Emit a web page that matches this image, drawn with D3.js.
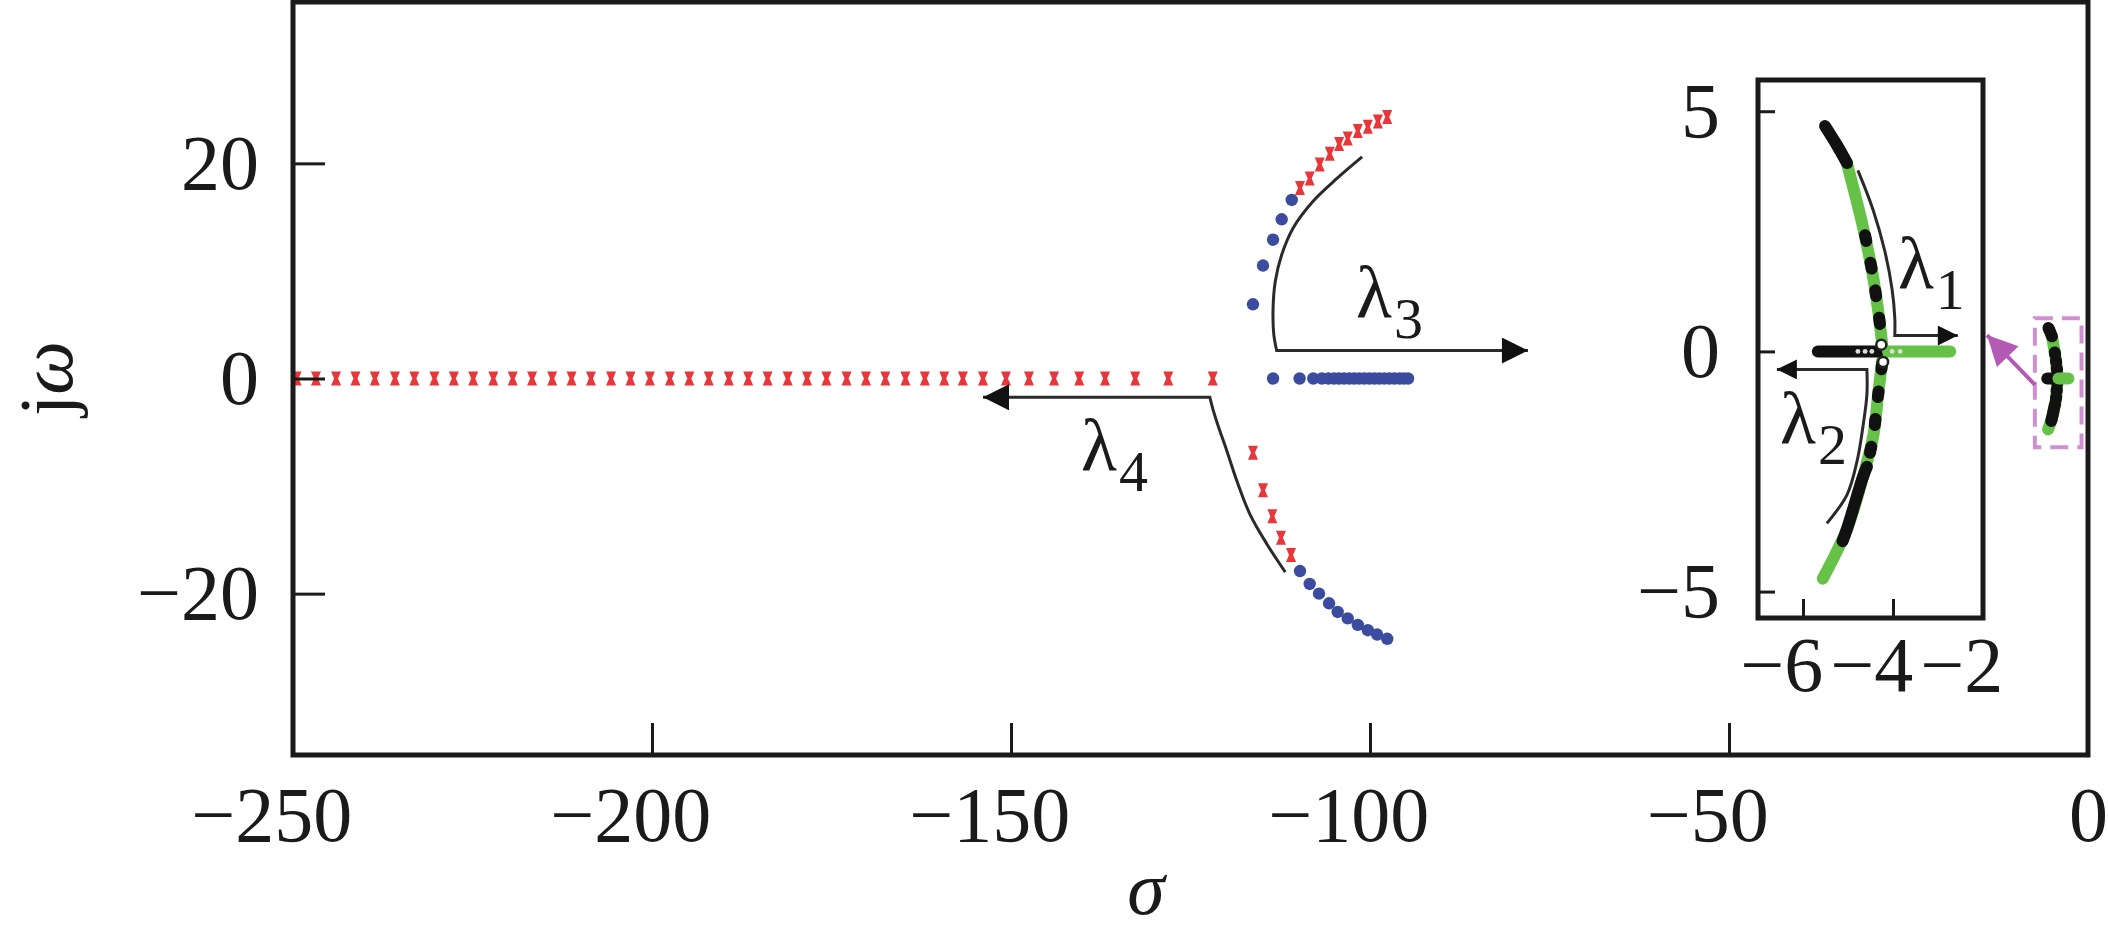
<!DOCTYPE html>
<html>
<head>
<meta charset="utf-8">
<script src="https://cdn.jsdelivr.net/npm/d3@7"></script>
<style>
  body { margin: 0; background: #fff; }
  svg { display: block; }
  text { font-family: "Liberation Serif", "Times New Roman", serif; fill: #1a1a1a; }
</style>
</head>
<body>
<div id="locus"></div>
<script>
// root locus, main plane (sigma, omega)
var redAxisSigma = [-249.5, -246.8, -244.0, -241.3, -238.6, -235.8, -233.1, -230.3, -227.6, -224.9,
    -222.1, -219.4, -216.7, -213.9, -211.2, -208.5, -205.7, -203.0, -200.3, -197.5,
    -194.8, -192.1, -189.3, -186.6, -183.9, -181.1, -178.4, -175.7, -172.9, -170.2,
    -167.5, -164.7, -162.0, -159.3, -156.7, -153.9, -150.7, -147.5, -144.0, -140.5,
    -136.9, -132.7, -128.1, -121.9];
var redUpper = [[-109.75, 17.7], [-108.4, 18.6], [-107.0, 19.9], [-105.6, 20.9], [-104.3, 21.8],
    [-103.1, 22.3], [-101.7, 23.0], [-100.3, 23.4], [-98.9, 23.9], [-97.6, 24.3]];
var redLower = [[-116.3, -6.9], [-114.9, -10.4], [-113.6, -12.8], [-112.4, -14.8], [-111.0, -16.4]];

var blueAxisSigma = [-113.5, -109.8, -107.9, -106.7, -105.8, -105.0, -104.3, -103.6, -102.9, -102.2,
    -101.5, -100.8, -100.1, -99.4, -98.7, -98.0, -97.3, -96.6, -95.9, -95.3, -94.7];
var blueUpper = [[-116.3, 6.9], [-114.9, 10.5], [-113.5, 12.9], [-112.3, 14.8], [-110.9, 16.6]];
var blueLower = [[-109.75, -17.9], [-108.4, -19.1], [-107.1, -20.0], [-105.7, -20.9], [-104.5, -21.7],
    [-103.1, -22.3], [-101.7, -22.9], [-100.3, -23.4], [-99.0, -23.8], [-97.6, -24.2]];

// dominant poles (inset)
var greenUpper = [[-5.02, 3.9], [-4.67, 2.6], [-4.44, 1.54], [-4.33, 0.85], [-4.24, 0.15]];
var greenLower = [[-4.24, -0.19], [-4.33, -0.9], [-4.44, -1.77], [-4.67, -2.62], [-5.02, -3.69], [-5.56, -4.73]];
var greenAxis = [[-4.11, 0], [-2.73, 0]];
var blackUpperSolid = [[-5.51, 4.69], [-5.25, 4.3], [-5.02, 3.92]];
var blackUpperDash = [[-4.62, 2.42], [-4.44, 1.54], [-4.33, 0.85], [-4.24, 0.2]];
var blackLowerDash = [[-4.24, -0.25], [-4.33, -0.9], [-4.44, -1.77], [-4.58, -2.4]];
var blackLowerSolid = [[-4.58, -2.4], [-4.67, -2.62], [-5.02, -3.69], [-5.12, -3.95]];
var blackAxis = [[-5.67, 0], [-4.33, 0]];
var whiteDots = [[-4.78, 0], [-4.62, 0], [-4.47, 0], [-4.02, 0], [-3.84, 0]];
var openPoles = [[-4.26, 0.14], [-4.22, -0.22]];

// ticks
var xTicks = [-250, -200, -150, -100, -50, 0];
var yTicks = [-20, 0, 20];
var xTicksInset = [-6, -4, -2];
var yTicksInset = [-5, 0, 5];

// annotations (data units)
var lambda3Curve = [[-101.1, 20.6], [-104.6, 18.6], [-107.9, 16.5], [-110.7, 14.0], [-112.3, 11.5],
    [-113.2, 9.0], [-113.5, 6.5], [-113.4, 4.1], [-113.0, 2.6]];
var lambda3Tip = [-78.0, 2.6];
var lambda4Curve = [[-111.8, -18.0], [-114.35, -15.4], [-116.7, -12.65], [-118.5, -9.6], [-119.9, -6.8],
    [-121.2, -4.3], [-121.9, -2.8], [-122.3, -1.75]];
var lambda4Tip = [-153.9, -1.75];
var lambda1Curve = [[-4.78, 3.77], [-4.44, 2.94], [-4.18, 2.08], [-4.02, 1.29], [-3.96, 0.69], [-3.96, 0.33]];
var lambda1Tip = [-2.56, 0.33];
var lambda2Curve = [[-5.47, -3.58], [-5.02, -2.98], [-4.8, -2.29], [-4.67, -1.58], [-4.58, -0.9], [-4.58, -0.375]];
var lambda2Tip = [-6.58, -0.375];
var zoomBox = [[-7.4, -6.4], [-0.9, 5.6]];
var zoomArrow = [[-7.38, -0.6], [-14.07, 4.04]];

var width = 2108, height = 937;
var serif = '"Liberation Serif", "Times New Roman", serif';

var x = d3.scaleLinear().domain([-250, 0]).range([293, 2088]);
var y = d3.scaleLinear().domain([-35, 35]).range([755, 2]);
var xi = d3.scaleLinear().domain([-7, -2]).range([1758, 1983]);
var yi = d3.scaleLinear().domain([-5.55, 5.65]).range([618, 80]);

var svg = d3.select('#locus').append("svg")
    .attr("width", width)
    .attr("height", height)
    .attr("font-family", serif);

var defs = svg.append("defs");
function addMarker(id, w, h, color) {
    defs.append("marker")
        .attr("id", id)
        .attr("viewBox", "0 0 10 10")
        .attr("refX", 10).attr("refY", 5)
        .attr("markerWidth", w).attr("markerHeight", h)
        .attr("markerUnits", "userSpaceOnUse")
        .attr("orient", "auto")
        .append("path")
        .attr("d", "M0,0L10,5L0,10Z")
        .attr("fill", color);
}
addMarker("headBig", 40, 26, "#111");
addMarker("headSmall", 32, 20, "#111");
addMarker("headPink", 36, 30, "#b45ab4");

function styleAxis(g, size) {
    g.attr("font-size", size).attr("font-family", serif).attr("color", "#1a1a1a");
    g.select(".domain").remove();
    g.selectAll(".tick line").attr("stroke-width", 3);
}

// ---- main plane ----
var main = svg.append("g");

var bowtie = "M-5,-7L5,-7L2,0L5,7L-5,7L-2,0Z";
var redPts = redAxisSigma.map(function(s) { return [s, 0]; }).concat(redUpper, redLower);
main.selectAll(".red")
    .data(redPts)
    .enter().append("path")
    .attr("class", "red")
    .attr("d", bowtie)
    .attr("transform", function(d) { return "translate(" + x(d[0]) + "," + y(d[1]) + ")"; })
    .attr("fill", "#e8373a");

var bluePts = blueAxisSigma.map(function(s) { return [s, 0]; }).concat(blueUpper, blueLower);
main.selectAll(".blue")
    .data(bluePts)
    .enter().append("circle")
    .attr("class", "blue")
    .attr("cx", function(d) { return x(d[0]); })
    .attr("cy", function(d) { return y(d[1]); })
    .attr("r", 6.2)
    .attr("fill", "#3b4ca0");

function arrow(g, sx, sy, curve, tip, marker, sw) {
    var line = d3.line()
        .x(function(d) { return sx(d[0]); })
        .y(function(d) { return sy(d[1]); })
        .curve(d3.curveCatmullRom.alpha(0.5));
    g.append("path")
        .attr("d", line(curve) + "L" + sx(tip[0]) + "," + sy(tip[1]))
        .attr("fill", "none")
        .attr("stroke", "#2a2a2a")
        .attr("stroke-width", sw)
        .attr("marker-end", "url(#" + marker + ")");
}

function lambdaLabel(g, px, py, sub) {
    var t = g.append("text")
        .attr("x", px).attr("y", py)
        .attr("font-size", 74)
        .text("λ");
    t.append("tspan")
        .attr("font-size", 58)
        .attr("dx", 2)
        .attr("dy", 21)
        .text(sub);
}

arrow(main, x, y, lambda3Curve, lambda3Tip, "headBig", 3);
arrow(main, x, y, lambda4Curve, lambda4Tip, "headBig", 3);
lambdaLabel(main, x(-101.95), y(5.72), "3");
lambdaLabel(main, x(-140.25), y(-8.5), "4");

// loci of dominant poles, drawn at a given scale
function drawLoci(g, sx, sy, w, dash, details) {
    var line = d3.line()
        .x(function(d) { return sx(d[0]); })
        .y(function(d) { return sy(d[1]); })
        .curve(d3.curveCatmullRom.alpha(0.5));
    function seg(data, color, dashed) {
        g.append("path")
            .attr("d", line(data))
            .attr("fill", "none")
            .attr("stroke", color)
            .attr("stroke-width", w)
            .attr("stroke-linecap", "round")
            .attr("stroke-dasharray", dashed ? dash : null);
    }
    seg(greenLower, "#66c247", false);
    seg(greenUpper, "#66c247", false);
    seg(blackUpperSolid, "#111", false);
    seg(blackUpperDash, "#111", true);
    seg(blackLowerDash, "#111", true);
    seg(blackLowerSolid, "#111", false);
    seg(blackAxis, "#111", false);
    seg(greenAxis, "#66c247", false);
    if (!details) return;
    g.selectAll(".wdot")
        .data(whiteDots)
        .enter().append("circle")
        .attr("class", "wdot")
        .attr("cx", function(d) { return sx(d[0]); })
        .attr("cy", function(d) { return sy(d[1]); })
        .attr("r", 2.4)
        .attr("fill", "#ddd");
    g.selectAll(".pole")
        .data(openPoles)
        .enter().append("circle")
        .attr("class", "pole")
        .attr("cx", function(d) { return sx(d[0]); })
        .attr("cy", function(d) { return sy(d[1]); })
        .attr("r", 5)
        .attr("fill", "#fff")
        .attr("stroke", "#222")
        .attr("stroke-width", 2.5);
}

// small copy at true scale + dashed zoom box
drawLoci(main.append("g"), x, y, 12, "2 6", false);
main.append("rect")
    .attr("x", x(zoomBox[0][0]))
    .attr("y", y(zoomBox[1][1]))
    .attr("width", x(zoomBox[1][0]) - x(zoomBox[0][0]))
    .attr("height", y(zoomBox[0][1]) - y(zoomBox[1][1]))
    .attr("fill", "none")
    .attr("stroke", "#d08fd0")
    .attr("stroke-width", 4)
    .attr("stroke-dasharray", "18 9");
main.append("line")
    .attr("x1", x(zoomArrow[0][0])).attr("y1", y(zoomArrow[0][1]))
    .attr("x2", x(zoomArrow[1][0])).attr("y2", y(zoomArrow[1][1]))
    .attr("stroke", "#b45ab4")
    .attr("stroke-width", 4)
    .attr("marker-end", "url(#headPink)");

// main axes and frame
var yAxis = d3.axisLeft(y).tickValues(yTicks).tickSize(-32).tickPadding(34);
main.append("g")
    .attr("transform", "translate(" + x(-250) + ",0)")
    .call(yAxis)
    .call(styleAxis, 78);

var xAxis = d3.axisBottom(x).tickValues(xTicks).tickSize(-32).tickPadding(31);
main.append("g")
    .attr("transform", "translate(0," + y(-35) + ")")
    .call(xAxis)
    .call(styleAxis, 78)
    .selectAll(".tick text")
    .attr("dx", function(d) { return d < 0 ? "-0.28em" : null; });

main.append("rect")
    .attr("x", x(-250)).attr("y", y(35))
    .attr("width", x(0) - x(-250))
    .attr("height", y(-35) - y(35))
    .attr("fill", "none")
    .attr("stroke", "#1a1a1a")
    .attr("stroke-width", 5);

main.append("text")
    .attr("transform", "translate(72," + y(0) + ") rotate(-90)")
    .attr("text-anchor", "middle")
    .attr("font-size", 76)
    .text("j")
    .append("tspan")
    .attr("font-style", "italic")
    .text("ω");

main.append("text")
    .attr("x", 1146).attr("y", 914)
    .attr("text-anchor", "middle")
    .attr("font-size", 76)
    .attr("font-style", "italic")
    .text("σ");

// ---- inset ----
var inset = svg.append("g");
inset.append("rect")
    .attr("x", xi(-7)).attr("y", yi(5.65))
    .attr("width", xi(-2) - xi(-7))
    .attr("height", yi(-5.55) - yi(5.65))
    .attr("fill", "#fff");

drawLoci(inset.append("g"), xi, yi, 12, "6 22", true);
arrow(inset, xi, yi, lambda1Curve, lambda1Tip, "headSmall", 3);
arrow(inset, xi, yi, lambda2Curve, lambda2Tip, "headSmall", 3);
lambdaLabel(inset, xi(-3.89), yi(1.32), "1");
lambdaLabel(inset, xi(-6.51), yi(-1.91), "2");

var yAxisI = d3.axisLeft(yi).tickValues(yTicksInset).tickSize(-17).tickPadding(38)
    .tickFormat(d3.format("d"));
inset.append("g")
    .attr("transform", "translate(" + xi(-7) + ",0)")
    .call(yAxisI)
    .call(styleAxis, 78);

var xAxisI = d3.axisBottom(xi).tickValues(xTicksInset).tickSize(-19).tickPadding(18)
    .tickFormat(d3.format("d"));
inset.append("g")
    .attr("transform", "translate(0," + yi(-5.55) + ")")
    .call(xAxisI)
    .call(styleAxis, 78)
    .selectAll(".tick text")
    .attr("dx", function(d) { return d < 0 ? "-0.28em" : null; });

inset.append("rect")
    .attr("x", xi(-7)).attr("y", yi(5.65))
    .attr("width", xi(-2) - xi(-7))
    .attr("height", yi(-5.55) - yi(5.65))
    .attr("fill", "none")
    .attr("stroke", "#1a1a1a")
    .attr("stroke-width", 5);
</script>
</body>
</html>
